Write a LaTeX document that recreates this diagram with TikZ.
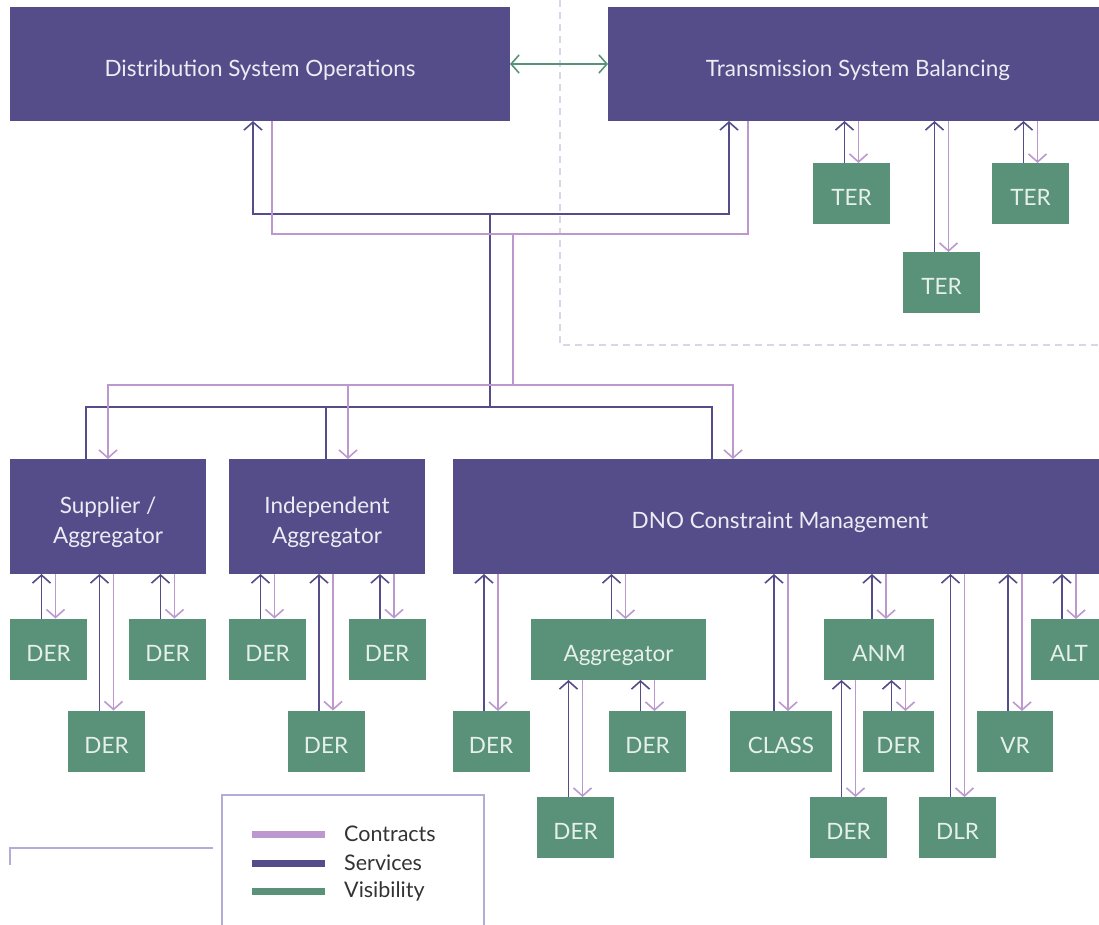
\documentclass[tikz,border=0pt]{standalone}
\usepackage{fontspec}
\setmainfont{Lato}
\usetikzlibrary{arrows.meta,positioning}

\definecolor{opspurple}{HTML}{544D8A}
\definecolor{resgreen}{HTML}{5A9279}
\definecolor{ctrlilac}{HTML}{BC98CE}
\definecolor{boxtext}{HTML}{ECECF4}
\definecolor{restext}{HTML}{E6F0EA}
\definecolor{dashlilac}{HTML}{DAD6EA}
\definecolor{legendline}{HTML}{B3ACD6}
\definecolor{legendtext}{HTML}{333333}

\tikzset{
	opsbox/.style={fill=opspurple,text=boxtext,minimum height=114pt,inner sep=0pt,outer sep=0pt,align=center,text height=24pt,text depth=0pt,font=\fontsize{22.5}{30}\selectfont},
	twoline/.style={text height=53pt,text depth=0pt},
	resbox/.style={fill=resgreen,text=restext,minimum height=61pt,minimum width=77pt,inner sep=0pt,outer sep=0pt,text height=24pt,text depth=0pt,font=\fontsize{22.5}{26}\selectfont},
	services/.style={draw=opspurple,line width=1.6pt},
	contracts/.style={draw=ctrlilac,line width=1.6pt},
	visibility/.style={draw=resgreen,line width=1.6pt},
	>={Straight Barb[length=8pt,width=18pt]}
}

% services up to the parent, contracts down to the child
\newcommand{\tieup}[2]{%
	\path ([xshift=-7pt]#1.north) coordinate (tie-s) ([xshift=7pt]#1.north) coordinate (tie-c);
	\draw [services,->] (tie-s) -- (tie-s |- #2.south);
	\draw [contracts,->] (tie-c |- #2.south) -- (tie-c);
}

\begin{document}
\begin{tikzpicture}[x=1pt,y=-1pt]
	
	\path [use as bounding box,clip] (0,0) rectangle (1099,924);
	
	\draw [dashlilac,line width=2.5pt,dash pattern=on 7pt off 5pt] (560,0) |- (1099,345);
	
	%%%%%%%%%%%%%%%%%%%%%%%%%%%%%%%%%%%%%%%%%%%%%%%%%%%%%%
	
	\node [opsbox,minimum width=500pt] (dso) at (260,64) {Distribution System Operations};
	\node [opsbox,minimum width=500pt] (tsb) at (858,64) {Transmission System Balancing};
	
	\draw [visibility,<->] (dso.east) -- (tsb.west);
	
	\node [resbox] (ter-1) at (851.5,193.5) {TER};
	\node [resbox] (ter-2) at (941.5,282.5) {TER};
	\node [resbox] (ter-3) at (1030.5,193.5) {TER};
	
	\tieup{ter-1}{tsb}
	\tieup{ter-2}{tsb}
	\tieup{ter-3}{tsb}
	
	%%%%%%%%%%%%%%%%%%%%%%%%%%%%%%%%%%%%%%%%%%%%%%%%%%%%%%
	
	\node [opsbox,twoline,minimum width=196pt,minimum height=115pt] (supplier) at (108,516.5) {Supplier /\\Aggregator};
	\node [opsbox,twoline,minimum width=196pt,minimum height=115pt] (independent) at (327,516.5) {Independent\\Aggregator};
	\node [opsbox,minimum width=654pt,minimum height=115pt] (dno) at (780,516.5) {DNO Constraint Management};
	
	\coordinate (hub-s) at (490,214);
	\coordinate (bus-s) at (490,407);
	\coordinate (hub-c) at (513,234);
	\coordinate (bus-c) at (513,385);
	
	\draw [services,<->] (dso.south -| 253,0) |- (hub-s) -| (tsb.south -| 729,0);
	\draw [services] (hub-s) -- (bus-s);
	\draw [services] (supplier.north -| 86,0) |- (bus-s) -| (dno.north -| 712,0);
	\draw [services] (independent.north -| 326,0) -- (bus-s -| 326,0);
	
	\draw [contracts] (dso.south -| 272,0) |- (hub-c) -| (tsb.south -| 748,0);
	\draw [contracts] (hub-c) -- (bus-c);
	\draw [contracts,->] (bus-c) -| (supplier.north -| 108,0);
	\draw [contracts,->] (bus-c) -| (dno.north -| 733,0);
	\draw [contracts,->] (bus-c -| 348,0) -- (independent.north -| 348,0);
	
	%%%%%%%%%%%%%%%%%%%%%%%%%%%%%%%%%%%%%%%%%%%%%%%%%%%%%%
	
	\node [resbox] (sup-der-1) at (48.5,649) {DER};
	\node [resbox] (sup-der-2) at (106.5,741) {DER};
	\node [resbox] (sup-der-3) at (167.5,649) {DER};
	\node [resbox] (ind-der-1) at (267.5,649) {DER};
	\node [resbox] (ind-der-2) at (326,741) {DER};
	\node [resbox] (ind-der-3) at (387,649) {DER};
	
	\tieup{sup-der-1}{supplier}
	\tieup{sup-der-2}{supplier}
	\tieup{sup-der-3}{supplier}
	\tieup{ind-der-1}{independent}
	\tieup{ind-der-2}{independent}
	\tieup{ind-der-3}{independent}
	
	%%%%%%%%%%%%%%%%%%%%%%%%%%%%%%%%%%%%%%%%%%%%%%%%%%%%%%
	
	\node [resbox] (dno-der) at (491,741.5) {DER};
	\node [resbox,minimum width=175pt] (aggregator) at (618.5,649.5) {Aggregator};
	\node [resbox] (agg-der-1) at (647.5,741.5) {DER};
	\node [resbox] (agg-der-2) at (575.5,827.5) {DER};
	\node [resbox,minimum width=102pt] (class) at (781,741.5) {CLASS};
	\node [resbox,minimum width=110pt] (anm) at (879,649.5) {ANM};
	\node [resbox,minimum width=71pt] (anm-der-1) at (898.5,741.5) {DER};
	\node [resbox] (anm-der-2) at (848.5,827.5) {DER};
	\node [resbox] (dlr) at (957.5,827.5) {DLR};
	\node [resbox,minimum width=76pt] (vr) at (1015,741.5) {VR};
	\node [resbox] (alt) at (1069,649.5) {ALT};
	
	\tieup{dno-der}{dno}
	\tieup{aggregator}{dno}
	\tieup{agg-der-1}{aggregator}
	\tieup{agg-der-2}{aggregator}
	\tieup{class}{dno}
	\tieup{anm}{dno}
	\tieup{anm-der-1}{anm}
	\tieup{anm-der-2}{anm}
	\tieup{dlr}{dno}
	\tieup{vr}{dno}
	\tieup{alt}{dno}
	
	%%%%%%%%%%%%%%%%%%%%%%%%%%%%%%%%%%%%%%%%%%%%%%%%%%%%%%
	
	\draw [legendline,line width=1.5pt] (222,940) |- (484,795) -- (484,940);
	\draw [legendline,line width=1.5pt] (213,848) -| (10,865);
	
	\foreach \kind/\shade/\ypos in {Contracts/ctrlilac/834,Services/opspurple/863,Visibility/resgreen/891}{
		\draw [\shade,line width=7pt] (252,\ypos) -- (325,\ypos);
		\node [anchor=west,inner sep=0pt,text=legendtext,font=\fontsize{21.5}{24}\selectfont] (key-\kind) at (344,\ypos) {\kind};
	}
	
\end{tikzpicture}
\end{document}
